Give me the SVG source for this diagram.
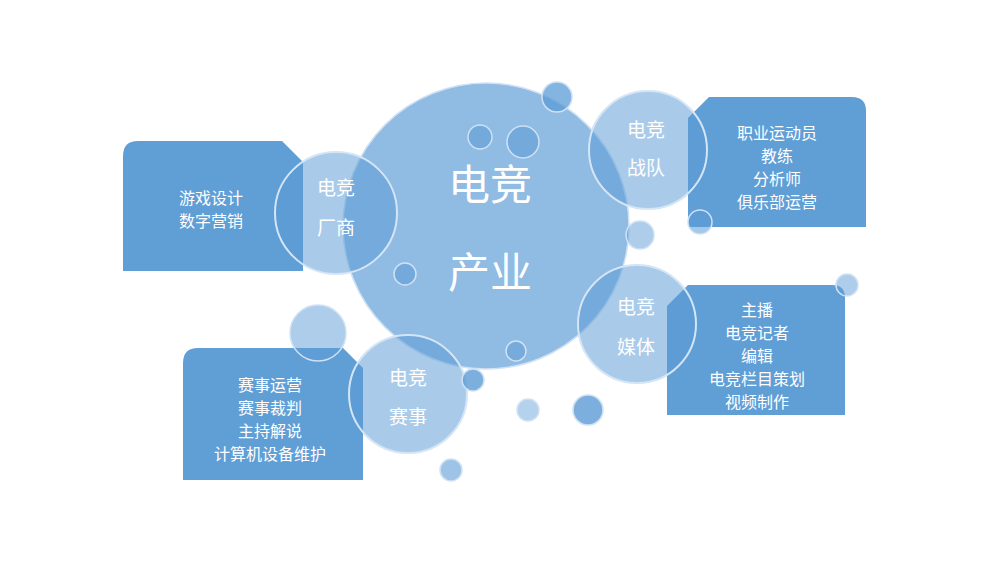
<svg xmlns="http://www.w3.org/2000/svg" width="1000" height="562" viewBox="0 0 1000 562">
<style>
.box{fill:#5b9bd5;fill-opacity:0.97}
.hubc{fill:#5b9bd5;fill-opacity:0.68;stroke:#cfe1f4;stroke-width:1.5}
.mid{fill:#5b9bd5;fill-opacity:0.52;stroke:#d4e5f6;stroke-width:2}
.dot{fill:#5b9bd5;stroke:#cfe1f4;stroke-width:1.5}
text{font-family:"Noto Sans CJK SC","Noto Sans",sans-serif;fill:#ffffff;text-anchor:middle}
.big{font-size:42px}
.lbl{font-size:19px}
.item{font-size:16px}
</style>
<rect width="1000" height="562" fill="#ffffff"/>
<g id="hub">
<circle class="hubc" cx="486" cy="226" r="143"/>
<text class="big" x="490" y="200">电竞</text>
<text class="big" x="490" y="288">产业</text>
</g>
<g id="node-changshang">
<path class="box" d="M123,156 Q123,141 138,141 L282,141 L303,162 L303,271 L123,271 Z"/>
<circle class="mid" cx="336" cy="213" r="61"/>
<text class="item" x="211" y="204">游戏设计</text>
<text class="item" x="211" y="227">数字营销</text>
<text class="lbl" x="336" y="195">电竞</text>
<text class="lbl" x="336" y="235">厂商</text>
</g>
<g id="node-zhandui">
<path class="box" d="M688,118 L709,97 L852,97 Q866,97 866,111 L866,227 L688,227 Z"/>
<circle class="mid" cx="648" cy="150" r="59"/>
<text class="item" x="777" y="139">职业运动员</text>
<text class="item" x="777" y="162">教练</text>
<text class="item" x="777" y="185">分析师</text>
<text class="item" x="777" y="208">俱乐部运营</text>
<text class="lbl" x="646" y="137">电竞</text>
<text class="lbl" x="646" y="175">战队</text>
</g>
<g id="node-meiti">
<path class="box" d="M667,306 L688,285 L832,285 Q845,285 845,298 L845,415 L667,415 Z"/>
<circle class="mid" cx="637" cy="324" r="59"/>
<text class="item" x="757" y="316">主播</text>
<text class="item" x="757" y="339">电竞记者</text>
<text class="item" x="757" y="362">编辑</text>
<text class="item" x="757" y="385">电竞栏目策划</text>
<text class="item" x="757" y="408">视频制作</text>
<text class="lbl" x="636" y="314">电竞</text>
<text class="lbl" x="636" y="354">媒体</text>
</g>
<g id="node-saishi">
<path class="box" d="M183,363 Q183,348 198,348 L343,348 L363,368 L363,480 L183,480 Z"/>
<circle class="mid" cx="408" cy="394" r="59"/>
<text class="item" x="270" y="391">赛事运营</text>
<text class="item" x="270" y="414">赛事裁判</text>
<text class="item" x="270" y="437">主持解说</text>
<text class="item" x="270" y="460">计算机设备维护</text>
<text class="lbl" x="408" y="385">电竞</text>
<text class="lbl" x="408" y="424">赛事</text>
</g>
<g id="decor">
<circle class="dot" cx="557" cy="97" r="15" fill-opacity="0.75"/>
<circle class="dot" cx="480" cy="137" r="12" fill-opacity="0.55"/>
<circle class="dot" cx="523" cy="142" r="16" fill-opacity="0.55"/>
<circle class="dot" cx="405" cy="274" r="11" fill-opacity="0.55"/>
<circle class="dot" cx="640" cy="235" r="14" fill-opacity="0.5"/>
<circle class="dot" cx="516" cy="351" r="10" fill-opacity="0.5"/>
<circle class="dot" cx="700" cy="222" r="12" fill-opacity="0.55"/>
<circle class="dot" cx="847" cy="285" r="11" fill-opacity="0.5"/>
<circle class="dot" cx="318" cy="333" r="28" fill-opacity="0.5"/>
<circle class="dot" cx="473" cy="380" r="11" fill-opacity="0.8"/>
<circle class="dot" cx="528" cy="410" r="11" fill-opacity="0.45"/>
<circle class="dot" cx="588" cy="410" r="15" fill-opacity="0.8"/>
<circle class="dot" cx="451" cy="470" r="11" fill-opacity="0.6"/>
</g>
</svg>
